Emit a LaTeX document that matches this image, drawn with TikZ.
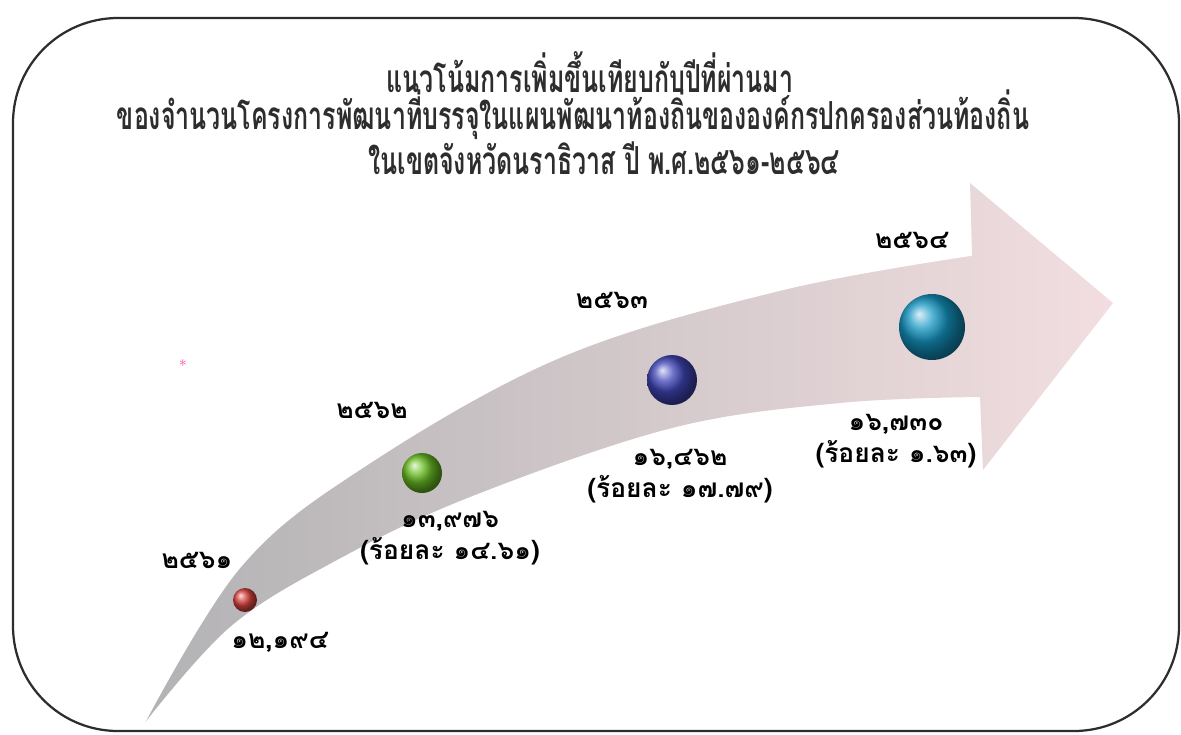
\documentclass[tikz,border=0pt]{standalone}
\usepackage{fontspec}
\newfontfamily\thaifont[Script=Thai]{Loma}
\newfontfamily\thaititle[Script=Thai,FakeStretch=0.645]{Loma}

\definecolor{framegrey}{RGB}{45,45,45}
\definecolor{titlegrey}{RGB}{45,45,45}
\definecolor{arrowgrey}{RGB}{178,178,180}
\definecolor{arrowpink}{RGB}{242,222,224}
\definecolor{ballred}{RGB}{215,65,60}
\definecolor{ballgreen}{RGB}{105,190,35}
\definecolor{ballblue}{RGB}{65,70,185}
\definecolor{ballteal}{RGB}{20,150,195}
\definecolor{markpink}{RGB}{240,90,170}

\begin{document}
\begin{tikzpicture}[x=0.2mm,y=-0.2mm]
    \tikzstyle{heading} = [font=\thaititle\bfseries\fontsize{22}{26}\selectfont,
        text=titlegrey]
    \tikzstyle{year} = [font=\thaifont\bfseries\fontsize{15}{18}\selectfont]
    \tikzstyle{amount} = [font=\thaifont\bfseries\fontsize{15}{18}\selectfont,
        align=center, inner sep=0pt]
    \tikzstyle{ball} = [circle, shading=ball, inner sep=0pt]

    \useasboundingbox (0,0) rectangle (1181,734);
    % frame
    \draw[framegrey, line width=0.45mm, rounded corners=21mm]
        (13,18) rectangle (1179,731);

    % Title
    \node[heading] (title1) at (590,72) {แนวโน้มการเพิ่มขึ้นเทียบกับปีที่ผ่านมา};
    \node[heading] (title2) at (573,115) {ของจำนวนโครงการพัฒนาที่บรรจุในแผนพัฒนาท้องถิ่นขององค์กรปกครองส่วนท้องถิ่น};
    \node[heading] (title3) at (604,158) {ในเขตจังหวัดนราธิวาส ปี พ.ศ.๒๕๖๑-๒๕๖๔};

    % Arrow
    \shade[left color=arrowgrey, right color=arrowpink]
        plot[smooth, tension=0.6] coordinates {(143,725) (240,567) (363,467)
            (560,357) (780,290) (972,255)}
        -- (970,183) -- (1113,303) -- (983,470) -- (980,397)
        -- plot[smooth, tension=0.6] coordinates {(980,397) (840,403)
            (672,428) (470,497) (337,560) (230,627) (143,725)}
        -- cycle;
    \draw[white, line width=0.3mm]
        plot[smooth, tension=0.6] coordinates {(143,725) (240,567) (363,467)
            (560,357) (780,290) (972,255)};

    % 2561
    \node[ball, ball color=ballred, minimum size=4.8mm] (b2561) at (245,600) {};
    \node[year] (y2561) at (197,560) {๒๕๖๑};
    \node[amount] (n2561) at (280,642) {๑๒,๑๙๔};
    % 2562
    \node[ball, ball color=ballgreen, minimum size=8mm] (b2562) at (422,473) {};
    \node[year] (y2562) at (372,410) {๒๕๖๒};
    \node[amount] (n2562) at (450,538) {๑๓,๙๗๖\\(ร้อยละ ๑๔.๖๑)};
    % 2563
    \node[ball, ball color=ballblue, minimum size=10mm] (b2563) at (672,380) {};
    \node[year] (y2563) at (612,300) {๒๕๖๓};
    \node[amount] (n2563) at (680,476) {๑๖,๔๖๒\\(ร้อยละ ๑๗.๗๙)};
    % 2564
    \node[ball, ball color=ballteal, minimum size=13.2mm] (b2564) at (932,327) {};
    \node[year] (y2564) at (912,240) {๒๕๖๔};
    \node[amount] (n2564) at (896,441) {๑๖,๗๓๐\\(ร้อยละ ๑.๖๓)};

    % stray mark
    \node[text=markpink, font=\fontsize{9}{9}\selectfont, inner sep=0pt]
        (mark) at (183,366) {*};
\end{tikzpicture}
\end{document}
